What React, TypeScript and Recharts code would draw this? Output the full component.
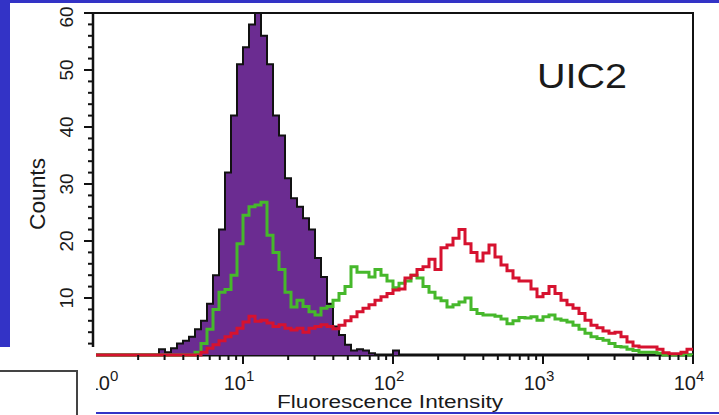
import React from 'react';
import { ComposedChart, Area, Line, XAxis, YAxis, ReferenceArea, Customized } from 'recharts';

const FONT = '"Liberation Sans", Arial, Helvetica, sans-serif';
const BINS_PER_DECADE = 25;

// Counts per channel bin (100 bins over 4 decades, 10^0 .. 10^4)
const purpleCounts = [
  0, 0, 0, 0, 0, 0, 0, 0, 0, 0,
  0, 1, 0.5, 1.2, 2, 2.5, 3.2, 4.5, 6, 9,
  14, 22, 32, 42, 51, 54, 58, 60, 56, 51,
  42, 38.5, 31, 27.5, 26, 24, 22, 17, 13.7, 9,
  5, 3.5, 1.8, 0.8, 1, 0.8, 0.3, 0, 0, 0,
  0.8, 0, 0, 0, 0, 0, 0, 0, 0, 0,
  0, 0, 0, 0, 0, 0, 0, 0, 0, 0,
  0, 0, 0, 0, 0, 0, 0, 0, 0, 0,
  0, 0, 0, 0, 0, 0, 0, 0, 0, 0,
  0, 0, 0, 0, 0, 0, 0, 0, 0, 0,
];

const greenCounts = [
  0, 0, 0, 0, 0, 0, 0, 0, 0, 0,
  0, 0, 0, 0, 0, 0, 0, 0.5, 2, 4.5,
  8, 11, 11.5, 14, 19.5, 24.5, 26, 26.3, 26.8, 21,
  18, 15, 11, 8.4, 9.6, 8.5, 7.6, 7, 8.2, 8.5,
  9.6, 10.8, 12, 15.5, 14.5, 14.5, 13.7, 15, 14, 13,
  11.8, 12.6, 13, 14, 13.5, 12, 11, 10, 9.5, 8.4,
  8.8, 9.3, 10, 8, 7.3, 7, 7, 6.8, 6.3, 5.5,
  6, 6.6, 6.5, 6.7, 6.1, 6.7, 7, 6.3, 6.1, 5.8,
  5.2, 4.5, 3.8, 3.2, 2.9, 2.6, 2, 1.5, 1.4, 1,
  0.8, 0.5, 0.5, 0.5, 0.3, 0, 0, 0, 0, 0,
];

const redCounts = [
  0, 0, 0, 0, 0, 0, 0, 0, 0, 0,
  0, 0, 0, 0, 0, 0, 0, 0, 0.5, 1.2,
  1.8, 2.5, 3.2, 3.8, 4.7, 5.8, 6.8, 5.9, 6.1, 5.6,
  5, 5.3, 4.7, 4.4, 4.7, 4, 4.7, 5, 5.3, 5,
  4.6, 5.2, 6, 6.7, 7.6, 8.2, 8.8, 9.6, 10.2, 10.8,
  11.4, 11.6, 13.5, 14, 15, 15.5, 16.8, 15, 18.8, 19.3,
  20.5, 22, 19.5, 18, 16.5, 17.9, 19.3, 17.2, 15.8, 14.8,
  13.5, 13, 13, 11.6, 10.2, 10.8, 12, 10.8, 9.6, 8.8,
  8.2, 7.3, 6.1, 5.2, 4.8, 4.2, 3.8, 4, 3.2, 2.3,
  1.6, 1.4, 1.4, 1.4, 1, 0.4, 0.2, 0.2, 0.5, 1,
];

const decadeTicks = [1, 10, 100, 1000, 10000];
const decadeExponents = ['0', '1', '2', '3', '4'];
const minorMultipliers = [2, 3, 4, 5, 6, 7, 8, 9];
const countTicks = [0, 2, 4, 6, 8, 10, 12, 14, 16, 18, 20, 22, 24, 26, 28, 30, 32, 34, 36, 38, 40, 42, 44, 46, 48, 50, 52, 54, 56, 58, 60];
const countLabelStep = 10;

const xTicks = [
  ...decadeTicks,
  ...decadeTicks.slice(0, -1).flatMap((d) => minorMultipliers.map((k) => d * k)),
].sort((a, b) => a - b);

const last = purpleCounts.length - 1;
const data = purpleCounts.map((p, i) => ({
  x: Math.pow(10, i / BINS_PER_DECADE),
  p,
  g: greenCounts[i],
  r: redCounts[i],
}));
data.push({ x: decadeTicks[decadeTicks.length - 1], p: purpleCounts[last], g: greenCounts[last], r: redCounts[last] });

const XTick = (props: any) => {
  const { x, y, payload } = props;
  const idx = decadeTicks.indexOf(payload.value);
  const major = idx >= 0;
  return (
    <g>
      <line x1={x} x2={x} y1={y} y2={y + (major ? 9 : 5)} stroke="#111" strokeWidth={2} />
      {major && (
        <text
          x={x + (idx === 0 ? 10 : -4)}
          y={y + 35}
          textAnchor="middle"
          fill="#1a1a1a"
          style={{ fontSize: '20px', fontFamily: FONT }}
        >
          10
          <tspan dy={-9} style={{ fontSize: '15px' }}>
            {decadeExponents[idx]}
          </tspan>
        </text>
      )}
    </g>
  );
};

const YTick = (props: any) => {
  const { x, y, payload } = props;
  const v = payload.value;
  const major = v % countLabelStep === 0;
  const lx = x - 20;
  const ly = v === 60 ? y + 4 : y;
  return (
    <g>
      <line x1={x - (major ? 9 : 5)} x2={x} y1={y} y2={y} stroke="#111" strokeWidth={2} />
      {major && v > 0 && (
        <text
          transform={`rotate(-90 ${lx} ${ly})`}
          x={lx}
          y={ly}
          textAnchor="middle"
          fill="#1a1a1a"
          style={{ fontSize: '19px', fontFamily: FONT }}
        >
          {v}
        </text>
      )}
    </g>
  );
};

const Texts = () => (
  <g fill="#1a1a1a" style={{ fontFamily: FONT }}>
    <text
      transform="rotate(-90 45 194)"
      x={45}
      y={194}
      textAnchor="middle"
      style={{ fontSize: '22px' }}
      textLength={72}
      lengthAdjust="spacingAndGlyphs"
    >
      Counts
    </text>
    <text x={390} y={408} textAnchor="middle" style={{ fontSize: '18px' }} textLength={226} lengthAdjust="spacingAndGlyphs">
      Fluorescence Intensity
    </text>
    <text x={537} y={88} style={{ fontSize: '35px' }} textLength={90} lengthAdjust="spacingAndGlyphs">
      UIC2
    </text>
  </g>
);

const BLUE = '#3333c6';

export default function App() {
  return (
    <div style={{ position: 'absolute', left: 0, top: 0, width: 719, height: 415, background: '#fff', overflow: 'hidden' }}>
      <ComposedChart width={719} height={415} data={data} margin={{ top: 13, right: 26, bottom: 0, left: 0 }}>
        <XAxis
          dataKey="x"
          type="number"
          scale="log"
          domain={[1, 10000]}
          ticks={xTicks}
          interval={0}
          height={60}
          tickSize={0}
          tickMargin={0}
          tickLine={false}
          tick={<XTick />}
          axisLine={{ stroke: '#111', strokeWidth: 3 }}
          zIndex={50}
        />
        <YAxis
          type="number"
          domain={[0, 60]}
          ticks={countTicks}
          interval={0}
          width={93}
          tickSize={0}
          tickMargin={0}
          tickLine={false}
          tick={<YTick />}
          axisLine={{ stroke: '#111', strokeWidth: 2.5 }}
          zIndex={50}
        />
        <ReferenceArea x1={1} x2={10000} y1={0} y2={60} fill="none" fillOpacity={0} stroke="#111" strokeWidth={2} ifOverflow="visible" zIndex={50} />
        <Area
          dataKey="p"
          type="stepAfter"
          stroke="#111"
          strokeWidth={2}
          fill="#6b2c91"
          fillOpacity={1}
          dot={false}
          activeDot={false}
          isAnimationActive={false}
          zIndex={100}
        />
        <Line dataKey="g" type="stepAfter" stroke="#46b82b" strokeWidth={3} dot={false} activeDot={false} isAnimationActive={false} zIndex={400} />
        <Line dataKey="r" type="stepAfter" stroke="#d6122f" strokeWidth={3} dot={false} activeDot={false} isAnimationActive={false} zIndex={450} />
        <Customized component={<Texts />} />
      </ComposedChart>
      <div style={{ position: 'absolute', left: 0, top: 0, width: 719, height: 3, background: BLUE }} />
      <div style={{ position: 'absolute', left: 0, top: 0, width: 10, height: 347, background: BLUE }} />
      <div style={{ position: 'absolute', left: 96, top: 412, width: 623, height: 2, background: BLUE }} />
      <div style={{ position: 'absolute', left: 0, top: 347, width: 96, height: 68, background: '#fff' }}>
        <div style={{ position: 'absolute', left: -10, top: 23, width: 84, height: 70, border: '2px solid #444' }} />
      </div>
    </div>
  );
}
